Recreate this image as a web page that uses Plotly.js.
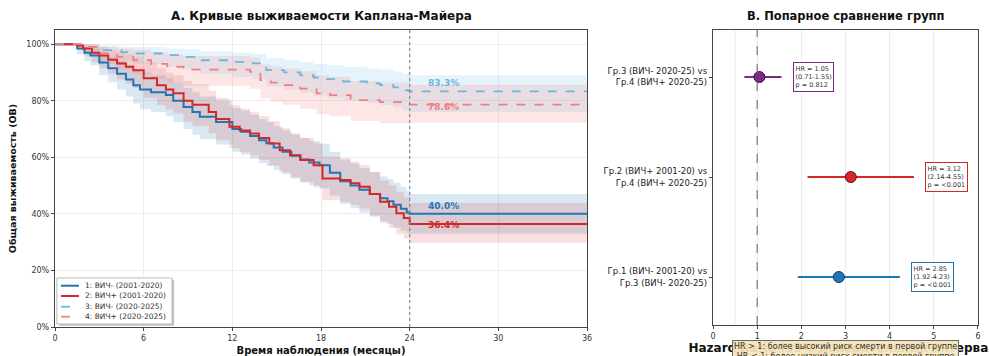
<!DOCTYPE html>
<html><head><meta charset="utf-8">
<script src="https://cdn.plot.ly/plotly-3.0.1.min.js"></script>
<style>html,body{margin:0;padding:0;background:#fff}#c{width:989px;height:356px}</style>
</head><body><div id="c"></div>
<script>
// ---- Panel A: Kaplan-Meier data ----
const g1T = [0,1.5,2.0,2.4,3.0,3.6,4.2,4.8,5.3,5.75,6.5,7.5,8.0,8.7,9.3,9.8,10.9,12.0,12.6,13.2,13.8,14.3,14.8,15.4,16.0,16.6,17.2,17.9,18.6,19.3,20.0,20.6,21.3,22.0,22.5,22.9,23.4,23.8,24,36];
const g1S = [1.0,0.985,0.97,0.96,0.935,0.915,0.895,0.875,0.855,0.84,0.83,0.82,0.8,0.778,0.76,0.743,0.725,0.7,0.69,0.675,0.66,0.65,0.635,0.62,0.605,0.592,0.582,0.572,0.545,0.515,0.5,0.485,0.47,0.455,0.445,0.432,0.418,0.405,0.4,0.4];
const g1Lo = [1.0,0.965,0.94,0.925,0.89,0.865,0.84,0.815,0.79,0.77,0.76,0.745,0.725,0.7,0.68,0.665,0.645,0.62,0.61,0.595,0.58,0.57,0.555,0.54,0.525,0.512,0.5,0.49,0.465,0.435,0.42,0.405,0.39,0.375,0.365,0.352,0.34,0.332,0.33,0.33];
const g1Hi = [1.0,1.0,0.99,0.985,0.97,0.955,0.94,0.925,0.91,0.9,0.89,0.88,0.865,0.845,0.83,0.815,0.8,0.775,0.765,0.75,0.735,0.725,0.71,0.695,0.68,0.668,0.658,0.648,0.62,0.592,0.578,0.562,0.548,0.532,0.522,0.51,0.495,0.48,0.47,0.47];

const g2T = [0,1.5,1.9,2.5,3.0,3.6,4.2,4.8,5.3,6.0,6.9,7.5,8.0,8.7,9.3,9.9,10.4,10.9,11.8,12.5,13.2,13.8,14.5,15.2,15.9,16.6,17.5,18.1,19.3,20.0,20.6,21.3,22.0,22.6,23.1,23.6,24,36];
const g2S = [1.0,0.995,0.985,0.97,0.96,0.945,0.932,0.92,0.908,0.879,0.855,0.84,0.826,0.80,0.786,0.786,0.76,0.735,0.708,0.695,0.684,0.668,0.649,0.625,0.607,0.59,0.572,0.525,0.52,0.508,0.496,0.47,0.443,0.425,0.402,0.385,0.364,0.364];
const g2Lo = [1.0,0.98,0.96,0.935,0.915,0.895,0.875,0.86,0.845,0.81,0.785,0.77,0.755,0.725,0.71,0.71,0.685,0.66,0.632,0.618,0.607,0.59,0.571,0.547,0.529,0.512,0.494,0.448,0.443,0.431,0.419,0.394,0.368,0.35,0.328,0.312,0.298,0.298];
const g2Hi = [1.0,1.0,1.0,0.995,0.99,0.98,0.975,0.965,0.955,0.935,0.915,0.9,0.89,0.87,0.858,0.858,0.835,0.81,0.784,0.772,0.761,0.746,0.727,0.703,0.685,0.668,0.65,0.602,0.597,0.585,0.573,0.547,0.518,0.5,0.477,0.459,0.438,0.438];

const g3T = [0,2.0,3.0,4.5,5.3,7.5,8.9,9.8,12.0,13.4,14.3,15.5,16.6,17.5,18.4,19.5,21.1,22.0,22.9,23.5,24,36];
const g3S = [1.0,0.99,0.979,0.972,0.967,0.961,0.955,0.943,0.937,0.932,0.908,0.9,0.89,0.882,0.876,0.868,0.861,0.855,0.847,0.837,0.833,0.833];
const g3Lo = [1.0,0.97,0.95,0.94,0.93,0.92,0.91,0.895,0.885,0.878,0.85,0.84,0.828,0.818,0.81,0.8,0.792,0.785,0.776,0.765,0.76,0.76];
const g3Hi = [1.0,1.0,0.995,0.99,0.99,0.985,0.982,0.975,0.97,0.966,0.95,0.944,0.936,0.93,0.926,0.92,0.914,0.91,0.903,0.895,0.89,0.89];

const g4T = [0,1.9,3.0,4.2,5.3,6.5,7.6,8.7,12.0,13.2,13.9,14.6,15.4,16.6,17.7,18.6,20.0,22.0,24,36];
const g4S = [1.0,0.99,0.967,0.955,0.943,0.93,0.92,0.91,0.91,0.902,0.873,0.864,0.855,0.843,0.826,0.82,0.802,0.795,0.786,0.786];
const g4Lo = [1.0,0.965,0.93,0.91,0.895,0.878,0.865,0.852,0.852,0.842,0.808,0.797,0.786,0.772,0.752,0.745,0.728,0.72,0.722,0.722];
const g4Hi = [1.0,1.0,0.99,0.985,0.98,0.972,0.965,0.958,0.958,0.952,0.928,0.921,0.914,0.904,0.89,0.885,0.87,0.864,0.856,0.856];

const groupNames = ['1: ВИЧ- (2001-2020)','2: ВИЧ+ (2001-2020)','3: ВИЧ- (2020-2025)','4: ВИЧ+ (2020-2025)'];
const endLabels = ['40.0%','36.4%','83.3%','78.6%'];
const endLabelY = [0.427,0.36,0.862,0.778];

// ---- Panel B: forest plot data ----
const cmpLabels = ['Гр.1 (ВИЧ- 2001-20) vs<br>Гр.3 (ВИЧ- 2020-25)','Гр.2 (ВИЧ+ 2001-20) vs<br>Гр.4 (ВИЧ+ 2020-25)','Гр.3 (ВИЧ- 2020-25) vs<br>Гр.4 (ВИЧ+ 2020-25)'];
const hrVals = [2.85,3.12,1.05];
const hrLo = [1.92,2.14,0.71];
const hrHi = [4.23,4.55,1.55];
const pTexts = ['&lt;0.001','&lt;0.001','0.812'];

const colors = ['#1f77b4','#d62728','#6cb8dc','#f08080'];
const fills = ['rgba(31,119,180,0.17)','rgba(214,39,40,0.15)','rgba(135,206,235,0.22)','rgba(240,128,128,0.2)'];
const cmpColors = ['#1f77b4','#d62728','#7b2a86'];
const cmpEdge = ['#0d3b5e','#6b1010','#3d0f45'];

const F = 'DejaVu Sans, sans-serif';
const groups = [[g1T,g1S,g1Lo,g1Hi],[g2T,g2S,g2Lo,g2Hi],[g3T,g3S,g3Lo,g3Hi],[g4T,g4S,g4Lo,g4Hi]];
const traces = [];
groups.forEach((g,i)=>{
  traces.push({x:g[0],y:g[2],mode:'lines',line:{shape:'hv',width:0},showlegend:false,hoverinfo:'skip',xaxis:'x',yaxis:'y'});
  traces.push({x:g[0],y:g[3],mode:'lines',line:{shape:'hv',width:0},fill:'tonexty',fillcolor:fills[i],showlegend:false,hoverinfo:'skip',xaxis:'x',yaxis:'y'});
});
groups.forEach((g,i)=>{
  traces.push({x:g[0],y:g[1],mode:'lines',name:groupNames[i],showlegend:false,
    line:{shape:'hv',width:i<2?2:1.8,color:colors[i],dash:i<2?'solid':'dash'},xaxis:'x',yaxis:'y'});
});
// forest
hrVals.forEach((v,i)=>{
  traces.push({x:[hrLo[i],hrHi[i]],y:[i,i],mode:'lines',line:{color:cmpColors[i],width:2.2},showlegend:false,xaxis:'x2',yaxis:'y2'});
});
traces.push({x:hrVals,y:[0,1,2],mode:'markers',marker:{size:11,color:cmpColors,line:{color:cmpEdge,width:1}},showlegend:false,xaxis:'x2',yaxis:'y2'});

const annotations = [
  {text:'<b>A. Кривые выживаемости Каплана-Майера</b>',xref:'x domain',yref:'paper',x:0.5,y:1.0,yshift:14,xanchor:'center',yanchor:'middle',showarrow:false,font:{family:F,size:12,color:'#111'}},
  {text:'<b>B. Попарное сравнение групп</b>',xref:'x2 domain',yref:'paper',x:0.5,y:1.0,yshift:14,xanchor:'center',yanchor:'middle',showarrow:false,font:{family:F,size:11.5,color:'#111'}},
];
endLabels.forEach((t,i)=>{
  annotations.push({text:'<b>'+t+'</b>',x:25.1,y:endLabelY[i],xref:'x',yref:'y',xanchor:'left',yanchor:'middle',showarrow:false,font:{family:F,size:9,color:colors[i]}});
});
hrVals.forEach((v,i)=>{
  annotations.push({text:'HR = '+v.toFixed(2)+'<br>('+hrLo[i].toFixed(2)+'-'+hrHi[i].toFixed(2)+')<br>p = '+pTexts[i],
    x:hrHi[i]+0.26,y:i,xref:'x2',yref:'y2',xanchor:'left',yanchor:'middle',align:'left',showarrow:false,
    font:{family:F,size:6.5,color:'#333'},bgcolor:'#fff',bordercolor:cmpColors[i],borderwidth:1,borderpad:1.5});
});
annotations.push({text:'HR &gt; 1: более высокий риск смерти в первой группе<br>HR &lt; 1: более низкий риск смерти в первой группе',
  x:3.0,y:-0.045,xref:'x2',yref:'paper',xanchor:'center',yanchor:'top',showarrow:false,align:'center',
  font:{family:F,size:8,color:'#333'},bgcolor:'rgba(245,228,185,0.95)',bordercolor:'#666',borderwidth:1,borderpad:1});

// manual compact legend (layout only)
const legY = [0.139,0.1044,0.0684,0.0347];
const shapes = [
  {type:'rect',xref:'paper',yref:'paper',x0:0.0045,x1:0.1290,y0:0.004,y1:0.159,fillcolor:'rgba(0,0,0,0.25)',line:{width:0}},
  {type:'rect',xref:'paper',yref:'paper',x0:0.002,x1:0.1268,y0:0.010,y1:0.165,fillcolor:'#fff',line:{color:'#bbb',width:1}},
  {type:'line',xref:'x',yref:'y domain',x0:24,x1:24,y0:0,y1:1,line:{color:'#888',width:1.2,dash:'dot'}},
  {type:'line',xref:'x2',yref:'y2 domain',x0:0.5,x1:0.5,y0:0,y1:1,line:{color:'#e6e6e6',width:0.8},layer:'below'},
  {type:'line',xref:'x2',yref:'y2 domain',x0:1,x1:1,y0:0,y1:1,line:{color:'#777',width:1.2,dash:'dash'}}
];
groupNames.forEach((n,i)=>{
  shapes.push({type:'line',xref:'paper',yref:'paper',x0:0.0065,x1:0.026,y0:legY[i],y1:legY[i],
    line:{color:colors[i],width:i<2?2:1.8,dash:i<2?'solid':'dash'}});
  annotations.push({text:n,xref:'paper',yref:'paper',x:0.0303,y:legY[i],xanchor:'left',yanchor:'middle',showarrow:false,
    font:{family:F,size:7.5,color:'#333'}});
});

const layout = {
  width:989,height:356,margin:{l:55,r:11,t:30,b:29},
  paper_bgcolor:'#fff',plot_bgcolor:'#fff',font:{family:F,size:8,color:'#333'},
  showlegend:false,
  xaxis:{domain:[0,0.5764],range:[0,36],tickvals:[0,6,12,18,24,30,36],ticks:'outside',ticklen:3,
    showgrid:true,gridcolor:'#e8e8e8',gridwidth:0.8,zeroline:false,showline:true,linecolor:'#444',linewidth:1.2,mirror:true,
    tickfont:{family:F,size:8,color:'#333'},
    title:{text:'Время наблюдения (месяцы)',font:{family:F,size:10,weight:'bold',color:'#111'},standoff:6}},
  yaxis:{domain:[0,1],range:[0,1.05],tickvals:[0,0.2,0.4,0.6,0.8,1.0],tickformat:'.0%',ticks:'outside',ticklen:3,
    showgrid:true,gridcolor:'#e8e8e8',gridwidth:0.8,zeroline:false,showline:true,linecolor:'#444',linewidth:1.2,mirror:true,
    tickfont:{family:F,size:8,color:'#333'},
    title:{text:'Общая выживаемость (ОВ)',font:{family:F,size:9.5,weight:'bold',color:'#111'},standoff:8}},
  xaxis2:{domain:[0.7129,1],range:[0,6],tickvals:[0,1,2,3,4,5,6],ticks:'outside',ticklen:3,anchor:'y2',
    showgrid:true,gridcolor:'#e6e6e6',gridwidth:0.8,zeroline:false,showline:true,linecolor:'#444',linewidth:1.2,mirror:true,
    tickfont:{family:F,size:8,color:'#333'},
    title:{text:'Hazard Ratio (95% доверительный интервал)',font:{family:F,size:12,weight:'bold',color:'#111'},standoff:3}},
  yaxis2:{domain:[0.0067,1],range:[-0.48,2.47],tickvals:[0,1,2],ticktext:cmpLabels,ticks:'outside',ticklen:3,anchor:'x2',
    showgrid:false,zeroline:false,showline:true,linecolor:'#444',linewidth:1.2,mirror:true,
    tickfont:{family:F,size:8.5,color:'#222'}},
  shapes:shapes,
  annotations:annotations
};
Plotly.newPlot('c',traces,layout,{staticPlot:true,displayModeBar:false});
</script></body></html>
